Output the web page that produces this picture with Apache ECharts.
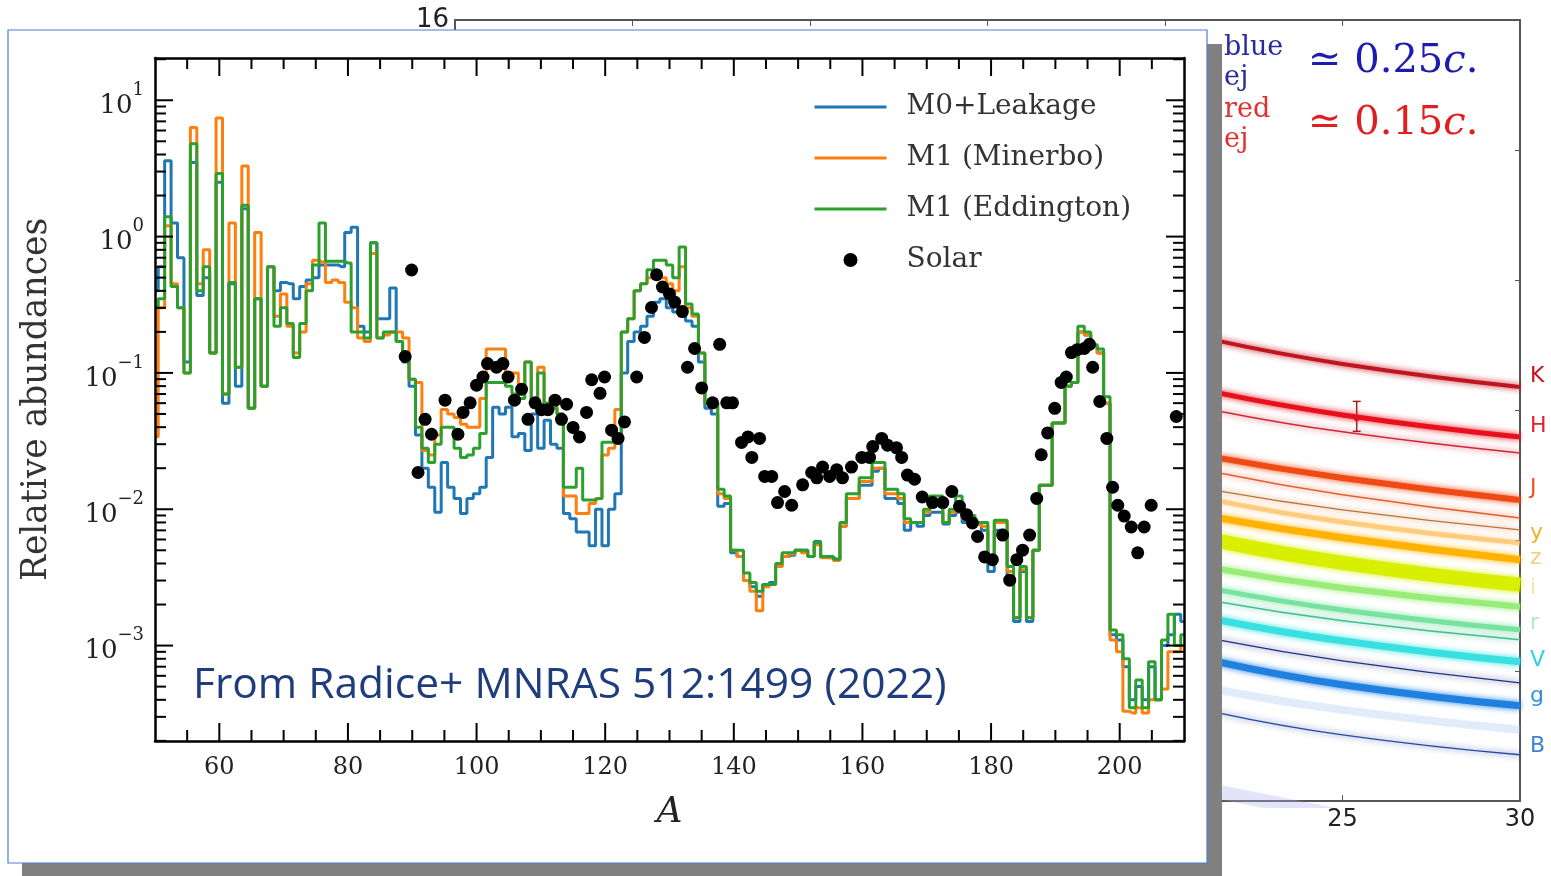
<!DOCTYPE html>
<html><head><meta charset="utf-8">
<script src="https://cdn.jsdelivr.net/npm/echarts@6/dist/echarts.min.js"></script>
<style>html,body{margin:0;padding:0;background:#fff;overflow:hidden}#c{width:1551px;height:876px}</style>
</head><body><div id="c"></div>
<script>
// ---------------- data: main chart (abundances vs mass number A) ----------------
const A_START = 50; // first mass number in the arrays below (one value per A, 50..210)
const m0Leakage = [
 0.4,0.6,3.6,1.26,0.7,0.12,3.5,0.37,0.5,0.14,
 2.5,0.06,0.45,0.08,1.6,0.055,0.35,0.08,0.6,0.4,
 0.46,0.45,0.35,0.43,0.48,0.5,0.62,0.62,0.62,0.6,
 1.07,1.17,0.22,0.2,0.9,0.25,0.25,0.42,0.17,0.12,
 0.08,0.035,0.02,0.0145,0.0095,0.022,0.0145,0.012,0.0093,0.012,
 0.013,0.0145,0.024,0.056,0.05,0.056,0.034,0.036,0.027,0.05,
 0.028,0.045,0.03,0.028,0.0093,0.0085,0.0068,0.0068,0.0054,0.01,
 0.0054,0.01,0.013,0.1,0.17,0.2,0.22,0.26,0.33,0.35,
 0.3,0.28,0.28,0.24,0.22,0.12,0.055,0.05,0.0105,0.011,
 0.0048,0.0045,0.003,0.0027,0.0023,0.0028,0.0029,0.0038,0.0045,0.0046,
 0.005,0.005,0.0045,0.0058,0.0045,0.0044,0.0043,0.0075,0.012,0.012,
 0.015,0.015,0.019,0.02,0.012,0.012,0.011,0.007,0.008,0.0075,
 0.009,0.0095,0.0095,0.0078,0.009,0.0095,0.008,0.0075,0.0078,0.007,
 0.0035,0.007,0.007,0.003,0.0015,0.0035,0.0015,0.005,0.015,0.015,
 0.043,0.043,0.08,0.085,0.2,0.19,0.16,0.14,0.06,0.0012,
 0.0011,0.0007,0.0004,0.0005,0.0004,0.0007,0.0004,0.001,0.0012,0.0017,
 0.0015];
const m1Minerbo = [
 0.034,0.3,1.2,0.45,0.3,0.1,6.3,0.45,0.8,0.14,
 7.4,0.07,1.26,0.11,3.3,0.055,1.07,0.08,0.6,0.26,
 0.38,0.22,0.14,0.2,0.45,0.67,0.65,0.46,0.48,0.46,
 0.33,0.3,0.18,0.17,0.75,0.18,0.19,0.2,0.2,0.18,
 0.09,0.085,0.027,0.025,0.035,0.054,0.05,0.047,0.042,0.04,
 0.04,0.065,0.15,0.15,0.15,0.1,0.1,0.08,0.12,0.065,
 0.11,0.06,0.06,0.05,0.0125,0.0125,0.0093,0.0093,0.011,0.012,
 0.025,0.028,0.054,0.2,0.25,0.4,0.45,0.5,0.55,0.5,
 0.45,0.4,0.6,0.3,0.26,0.14,0.06,0.06,0.013,0.012,
 0.005,0.0045,0.003,0.0025,0.0018,0.0027,0.0028,0.0038,0.0045,0.0047,
 0.005,0.0048,0.0045,0.0055,0.0044,0.0044,0.0042,0.0075,0.012,0.012,
 0.016,0.016,0.02,0.02,0.013,0.013,0.012,0.008,0.008,0.008,
 0.0095,0.012,0.0115,0.008,0.0095,0.011,0.0085,0.0085,0.0078,0.0075,
 0.004,0.008,0.008,0.0035,0.0016,0.0036,0.0016,0.005,0.015,0.015,
 0.043,0.043,0.08,0.085,0.2,0.19,0.16,0.14,0.06,0.0011,
 0.0009,0.00033,0.00032,0.00035,0.00032,0.0004,0.0004,0.00048,0.0009,0.0009,
 0.001];
const m1Eddington = [
 0.3,0.35,1.4,0.43,0.3,0.1,4.8,0.4,0.6,0.14,
 2.9,0.07,0.46,0.11,1.7,0.055,0.35,0.08,0.6,0.22,
 0.3,0.23,0.13,0.23,0.4,0.62,1.26,0.66,0.66,0.66,
 0.64,0.2,0.2,0.18,0.9,0.18,0.2,0.2,0.17,0.13,
 0.09,0.04,0.028,0.022,0.03,0.04,0.04,0.028,0.024,0.025,
 0.028,0.036,0.085,0.085,0.085,0.08,0.07,0.065,0.12,0.06,
 0.1,0.06,0.055,0.05,0.0145,0.0145,0.02,0.0117,0.0117,0.012,
 0.031,0.031,0.033,0.2,0.25,0.4,0.45,0.57,0.67,0.67,
 0.62,0.5,0.84,0.32,0.27,0.14,0.06,0.06,0.014,0.0125,
 0.005,0.005,0.0034,0.0029,0.0025,0.0028,0.0028,0.004,0.0048,0.0048,
 0.005,0.005,0.0045,0.0057,0.0045,0.0045,0.0043,0.008,0.013,0.013,
 0.017,0.017,0.022,0.022,0.014,0.014,0.013,0.0085,0.008,0.008,
 0.01,0.0125,0.0125,0.008,0.01,0.0125,0.009,0.009,0.008,0.008,
 0.004,0.0083,0.0083,0.0038,0.0016,0.0038,0.0016,0.005,0.015,0.015,
 0.043,0.043,0.08,0.085,0.22,0.2,0.16,0.15,0.067,0.0013,
 0.0012,0.0008,0.00035,0.00056,0.00035,0.00076,0.0004,0.0011,0.0017,0.001,
 0.0012];
const solarA = [88.9,89.9,90.9,92.0,93.0,95.1,97.1,97.9,99.0,100.0,
 101.0,101.7,103.1,104.1,104.9,105.9,107.0,108.0,109.1,110.1,
 111.1,112.2,113.2,114.0,115.0,116.0,117.1,117.9,119.2,119.9,
 121.0,122.0,123.0,124.9,126.1,127.2,128.0,128.9,130.0,130.8,
 132.0,132.8,133.9,135.0,136.7,137.8,138.9,139.8,141.2,142.2,
 142.8,144.0,144.8,145.9,146.8,147.9,149.0,150.7,152.1,152.9,
 153.8,154.9,156.0,156.9,158.3,159.9,161.1,161.6,163.0,163.9,
 165.3,166.1,167.0,168.1,169.3,170.9,172.5,173.9,175.1,176.2,
 177.1,177.9,179.0,180.2,181.8,182.9,184.0,184.9,186.0,187.1,
 187.8,188.8,189.9,190.9,191.7,192.5,193.4,194.5,195.3,195.8,
 196.9,198.0,198.9,199.7,200.7,201.8,202.8,203.8,204.9,208.8];
const solarY = [0.132,0.569,0.0186,0.0457,0.0355,0.0631,0.0355,0.0513,0.0603,0.0813,
 0.0933,0.117,0.110,0.117,0.0933,0.0631,0.0759,0.0457,0.0603,0.0537,
 0.0537,0.0631,0.0457,0.0589,0.0398,0.0339,0.0513,0.0891,0.0708,0.0933,
 0.0380,0.0331,0.0437,0.0933,0.182,0.302,0.525,0.427,0.38,0.331,
 0.282,0.110,0.151,0.0776,0.0603,0.162,0.0603,0.0603,0.0309,0.0339,
 0.0240,0.0331,0.0174,0.0174,0.0112,0.0135,0.0107,0.0151,0.0186,0.0170,
 0.0204,0.0174,0.0195,0.0170,0.0204,0.0240,0.0240,0.0288,0.0331,0.0295,
 0.0282,0.0240,0.0178,0.0166,0.0123,0.0112,0.0112,0.0135,0.0105,0.00912,
 0.00794,0.00631,0.00447,0.00427,0.00646,0.00302,0.00427,0.00501,0.00646,0.0120,
 0.0251,0.0363,0.0550,0.0851,0.0933,0.141,0.148,0.151,0.162,0.110,
 0.0617,0.0331,0.0145,0.0107,0.00891,0.00741,0.00479,0.00741,0.0107,0.0479];
const xMajorTicks = [60,80,100,120,140,160,180,200];
const xMinorTicks = [55,65,70,75,85,90,95,105,110,115,125,130,135,145,150,155,165,170,175,185,190,195,205];
const yDecades = [-3,-2,-1,0,1];          // tick labels 10^n
const yMantissas = [2,3,4,5,6,7,8,9];     // minor ticks
const X_MIN = 50, X_MAX = 210, Y_MIN = -3.7, Y_MAX = 1.31; // log10 range

// ---------------- data: background light-curve chart ----------------
const lcX = [21.5, 25, 30];
const lcK      = [18.465, 18.642, 18.819];
const lcH      = [18.865, 19.034, 19.203];
const lcH2     = [19.003, 19.164, 19.326];
const lcJ      = [19.364, 19.518, 19.687];
const lcJ2     = [19.479, 19.648, 19.825];
const lcO1     = [19.617, 19.763, 19.917];
const lcO2     = [19.694, 19.856, 20.017];
const lcY      = [19.825, 19.978, 20.147];
const lcZ      = [20.002, 20.171, 20.339];
const lcG1     = [20.217, 20.363, 20.508];
const lcG2     = [20.378, 20.532, 20.685];
const lcG3     = [20.470, 20.616, 20.762];
const lcV      = [20.608, 20.770, 20.931];
const lcDB     = [20.762, 20.923, 21.092];
const lcGb     = [20.931, 21.107, 21.269];
const lcLB     = [21.146, 21.300, 21.453];
const lcB      = [21.323, 21.492, 21.645];
const lcLav    = [21.930, 22.120, 22.400];
const errorBars = [[25.4, 18.93, 19.16, 19.06]];
const bandLabels = ['K','H','J','y','z','i','r','V','g','B'];

// ---------------- build ----------------
const chart = echarts.init(document.getElementById('c'), null, {renderer:'canvas'});
const SERIF = 'DejaVu Serif', SANS = 'DejaVu Sans';
const stepData = vals => vals.map((v, i) => [A_START + i, Math.log10(v)]);
const solarData = solarA.map((a, i) => [a, Math.log10(solarY[i])]);
const yMinorTicks = [];
for (let n = -4; n <= 1; n++) for (const m of yMantissas) {
  const v = n + Math.log10(m);
  if (v > Y_MIN && v < Y_MAX) yMinorTicks.push(v);
}
const expText = e => (e < 0 ? '\u2212' + (-e) : String(e));
const lcSeries = (data, color, width) => ({
  type:'line', xAxisIndex:2, yAxisIndex:2, z:1, smooth:true, symbol:'none', silent:true,
  data: lcX.map((x, i) => [x, data[i]]),
  lineStyle:{color, width, shadowBlur:6, shadowColor:color}
});
// inward tick marks on both opposite frame sides, placed through the axis scales
const tickSeries = (values, dim, len) => ({
  type:'custom', xAxisIndex:0, yAxisIndex:0, z:11, silent:true, clip:false,
  data: values.map(v => dim === 'x' ? [v, Y_MIN] : [X_MIN, v]),
  renderItem:(params, api) => {
    const cs = params.coordSys;
    const p = api.coord([api.value(0), api.value(1)]);
    const st = {stroke:'#000', lineWidth:2};
    if (dim === 'x') {
      const b = cs.y + cs.height, t = cs.y;
      return {type:'group', children:[
        {type:'line', shape:{x1:p[0], y1:b, x2:p[0], y2:b - len}, style:st},
        {type:'line', shape:{x1:p[0], y1:t, x2:p[0], y2:t + len}, style:st}]};
    }
    const l = cs.x, r = cs.x + cs.width;
    return {type:'group', children:[
      {type:'line', shape:{x1:l, y1:p[1], x2:l + len, y2:p[1]}, style:st},
      {type:'line', shape:{x1:r, y1:p[1], x2:r - len, y2:p[1]}, style:st}]};
  }
});

const blk = '#000';
const frameLine = {show:true, onZero:false, lineStyle:{color:blk, width:2.5}};
const xAxes = [
  {gridIndex:0, type:'value', z:10, min:X_MIN, max:X_MAX, position:'bottom', splitLine:{show:false},
    axisLine:frameLine, axisTick:{show:false},
    axisLabel:{show:true, customValues:xMajorTicks, margin:15, fontFamily:SERIF, fontSize:24, color:'#222'},
    name:'A', nameLocation:'middle', nameGap:54,
    nameTextStyle:{fontFamily:SERIF, fontStyle:'italic', fontSize:36, color:'#222'}},
  {gridIndex:0, type:'value', z:10, min:X_MIN, max:X_MAX, position:'top', splitLine:{show:false},
    axisLine:frameLine, axisTick:{show:false}, axisLabel:{show:false}},
  {gridIndex:1, type:'value', min:0, max:30, interval:5, position:'bottom', z:1,
    axisLine:{show:true, onZero:false, lineStyle:{color:'#555', width:2}},
    axisTick:{show:true, inside:true, length:6, lineStyle:{color:'#555'}},
    axisLabel:{show:true, margin:7, fontFamily:SANS, fontSize:24, color:'#222'}, splitLine:{show:false}},
  {gridIndex:1, type:'value', min:0, max:30, interval:5, position:'top', z:1,
    axisLine:{show:true, onZero:false, lineStyle:{color:'#555', width:2}},
    axisTick:{show:true, inside:true, length:6, lineStyle:{color:'#555'}},
    axisLabel:{show:false}, splitLine:{show:false}}
];
const yRich = {
  b:{fontFamily:SERIF, fontSize:26, color:'#222', lineHeight:38, verticalAlign:'bottom'},
  s:{fontFamily:SERIF, fontSize:18, color:'#222', lineHeight:10, verticalAlign:'top'}
};
const yAxes = [
  {gridIndex:0, type:'value', z:10, min:Y_MIN, max:Y_MAX, position:'left', splitLine:{show:false},
    axisLine:frameLine, axisTick:{show:false},
    axisLabel:{show:true, customValues:yDecades, margin:11,
      formatter: v => '{b|10}{s|' + expText(Math.round(v)) + '}', rich:yRich},
    name:'Relative abundances', nameLocation:'middle', nameGap:100, nameRotate:90,
    nameTextStyle:{fontFamily:SERIF, fontSize:34.5, color:'#333'}},
  {gridIndex:0, type:'value', z:10, min:Y_MIN, max:Y_MAX, position:'right', splitLine:{show:false},
    axisLine:frameLine, axisTick:{show:false}, axisLabel:{show:false}},
  {gridIndex:1, type:'value', min:16, max:22, interval:1, inverse:true, position:'left', z:1,
    axisLine:{show:true, onZero:false, lineStyle:{color:'#555', width:2}},
    axisTick:{show:true, inside:true, length:6, lineStyle:{color:'#555'}},
    axisLabel:{show:true, margin:6, fontFamily:SANS, fontSize:26, color:'#222'}, splitLine:{show:false}},
  {gridIndex:1, type:'value', min:16, max:22, interval:1, inverse:true, position:'right', z:1,
    axisLine:{show:true, onZero:false, lineStyle:{color:'#555', width:2}},
    axisTick:{show:true, inside:true, length:5, lineStyle:{color:'#555'}},
    axisLabel:{show:false}, splitLine:{show:false}}
];

const bandLabelStyle = [
  ['#c0141e',378],['#e02030',428],['#f05020',490],['#f0b030',535],['#f3cf80',560],
  ['#eeeaa0',590],['#b8e6c4',625],['#30d0e0',662],['#3090e0',698],['#4080d0',748]
];
const hideSym = {opacity:0};

const option = {
  animation:false,
  backgroundColor:'#fff',
  grid:[
    {left:155, top:58, width:1029, height:683},
    {left:455, top:20, width:1065, height:781}
  ],
  xAxis:xAxes,
  yAxis:yAxes,
  legend:{
    orient:'vertical', left:808, top:87, itemWidth:72, itemHeight:14, itemGap:21, z:12,
    lineStyle:{width:3},
    data:[
      {name:'M0+Leakage', itemStyle:hideSym},
      {name:'M1 (Minerbo)', itemStyle:hideSym},
      {name:'M1 (Eddington)', itemStyle:hideSym},
      {name:'Solar'}
    ],
    textStyle:{fontFamily:SERIF, fontSize:28, color:'#333', lineHeight:30, padding:[0,0,0,15]}
  },
  graphic:{elements:[
    {type:'rect', z:3, silent:true, shape:{x:22, y:44, width:1200, height:834}, style:{fill:'#808080'}},
    {type:'rect', z:4, silent:true, shape:{x:8, y:30, width:1199, height:833}, style:{fill:'#fff', stroke:'#4a7fd0', lineWidth:1.2}},
    {type:'text', z:20, left:193, top:664, style:{text:'From Radice+ MNRAS 512:1499 (2022)', fontFamily:'Open Sans', fontSize:42.5, fill:'#1f3d7c'}},
    {type:'text', z:1, left:1224, top:33, style:{text:'blue\nej', fontFamily:SERIF, fontSize:27, lineHeight:30, fill:'#2a2a9c'}},
    {type:'text', z:1, left:1224, top:95, style:{text:'red\nej', fontFamily:SERIF, fontSize:27, lineHeight:30, fill:'#e03030'}},
    {type:'text', z:1, left:1308, top:42, style:{text:'{n|\u2243 0.25}{i|c}{n|.}', rich:{
      n:{fontFamily:SERIF, fontSize:40, fill:'#1c1cb0'}, i:{fontFamily:SERIF, fontStyle:'italic', fontSize:40, fill:'#1c1cb0'}}}},
    {type:'text', z:1, left:1308, top:104, style:{text:'{n|\u2243 0.15}{i|c}{n|.}', rich:{
      n:{fontFamily:SERIF, fontSize:40, fill:'#e02020'}, i:{fontFamily:SERIF, fontStyle:'italic', fontSize:40, fill:'#e02020'}}}}
  ].concat(bandLabels.map((t, i) => ({
    type:'text', z:1, left:1530, top:bandLabelStyle[i][1] - 13,
    style:{text:t, fontFamily:SANS, fontSize:22, fill:bandLabelStyle[i][0]}
  })))},
  series:[
    // background light curves
    lcSeries(lcLav, 'rgba(175,175,240,0.30)', 14),
    lcSeries(lcLB, 'rgba(170,200,240,0.30)', 8),
    lcSeries(lcZ, '#d8f000', 14),
    lcSeries(lcG1, '#98ec78', 6),
    lcSeries(lcG2, '#78e2a0', 5),
    lcSeries(lcO2, 'rgba(255,190,90,0.7)', 5),
    lcSeries(lcK, '#c0141e', 4),
    lcSeries(lcH, '#e8101c', 5),
    lcSeries(lcH2, '#d02838', 1.5),
    lcSeries(lcJ, '#f04a14', 6),
    lcSeries(lcJ2, '#e06030', 1.5),
    lcSeries(lcO1, '#c07030', 1.2),
    lcSeries(lcY, '#ffb300', 7),
    lcSeries(lcG3, '#40c090', 1.5),
    lcSeries(lcV, '#38e0e0', 7),
    lcSeries(lcDB, '#203080', 1.3),
    lcSeries(lcGb, '#2080e0', 7),
    lcSeries(lcB, '#2848a0', 1.5),
    {type:'custom', xAxisIndex:2, yAxisIndex:2, z:1, silent:true, data:errorBars,
      renderItem:(params, api) => {
        const x = api.value(0);
        const p1 = api.coord([x, api.value(1)]), p2 = api.coord([x, api.value(2)]), pm = api.coord([x, api.value(3)]);
        const st = {stroke:'#a02020', lineWidth:1.5};
        return {type:'group', children:[
          {type:'line', shape:{x1:p1[0], y1:p1[1], x2:p2[0], y2:p2[1]}, style:st},
          {type:'line', shape:{x1:p1[0]-4, y1:p1[1], x2:p1[0]+4, y2:p1[1]}, style:st},
          {type:'line', shape:{x1:p2[0]-4, y1:p2[1], x2:p2[0]+4, y2:p2[1]}, style:st},
          {type:'circle', shape:{cx:pm[0], cy:pm[1], r:3}, style:{fill:'#c02020'}}
        ]};
      }},
    // main chart
    {name:'M0+Leakage', type:'line', step:'middle', xAxisIndex:0, yAxisIndex:0, z:6, symbol:'none',
      data:stepData(m0Leakage), lineStyle:{color:'#1f77b4', width:3}, itemStyle:{color:'#1f77b4'}},
    {name:'M1 (Minerbo)', type:'line', step:'middle', xAxisIndex:0, yAxisIndex:0, z:7, symbol:'none',
      data:stepData(m1Minerbo), lineStyle:{color:'#ff7f0e', width:3}, itemStyle:{color:'#ff7f0e'}},
    {name:'M1 (Eddington)', type:'line', step:'middle', xAxisIndex:0, yAxisIndex:0, z:8, symbol:'none',
      data:stepData(m1Eddington), lineStyle:{color:'#2ca02c', width:3}, itemStyle:{color:'#2ca02c'}},
    {name:'Solar', type:'scatter', xAxisIndex:0, yAxisIndex:0, z:9, symbol:'circle', symbolSize:13,
      data:solarData, itemStyle:{color:'#000', opacity:1}},
    tickSeries(xMajorTicks, 'x', 18),
    tickSeries(xMinorTicks, 'x', 11),
    tickSeries(yDecades, 'y', 18),
    tickSeries(yMinorTicks, 'y', 11)
  ]
};
chart.setOption(option);
</script>
</body></html>
